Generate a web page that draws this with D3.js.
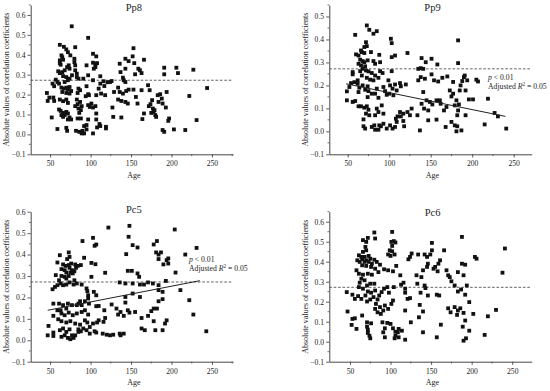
<!DOCTYPE html>
<meta charset="utf-8">
<script src="https://d3js.org/d3.v7.min.js"></script>
<style>
  body { margin: 0; background: #fff; }
  text { font-family: "Liberation Serif", "Times New Roman", serif; fill: #222; }
</style>
<body>
<div id="my_dataviz"></div>
<script>
// [age, |r|] pairs
var pp8Points = [[76.7,0.543],[97,0.485],[62,0.45],[67,0.44],[81,0.438],[70,0.427],[72,0.413],[64,0.397],[65,0.388],[75,0.397],[103,0.405],[107,0.392],
  [80,0.38],[80,0.363],[62,0.372],[66,0.375],[103,0.36],[106,0.352],[108,0.358],[62,0.358],[63,0.35],[81,0.347],[95,0.347],[106,0.338],[104,0.33],[71,0.338],[73,0.347],
  [60,0.317],[62,0.308],[65,0.313],[68,0.322],[74,0.33],[81,0.322],[83,0.305],[97,0.297],[77,0.297],[66,0.293],[70,0.288],[72,0.272],[68,0.263],[74,0.28],[83,0.288],[85,0.28],[91,0.28],
  [57,0.275],[59,0.263],[61,0.255],[53,0.255],[55,0.242],[46,0.208],[49,0.185],[54,0.185],[47,0.168],[55,0.168],
  [64,0.235],[67,0.23],[70,0.235],[72,0.225],[74,0.238],[76,0.218],[65,0.213],[70,0.208],[74,0.205],[85,0.23],[87,0.222],[84,0.208],
  [103,0.272],[112,0.292],[112,0.255],[110,0.23],[116,0.267],[117,0.243],[121,0.262],[124,0.263],[126,0.268],
  [95,0.242],[97,0.202],[94,0.192],[98,0.197],[107,0.197],[118,0.197],[113,0.205],
  [62,0.175],[66,0.167],[70,0.175],[72,0.158],[83,0.175],[87,0.163],[84,0.152],[81,0.142],[89,0.142],[85,0.13],[88,0.122],
  [97,0.147],[99,0.138],[103,0.135],[106,0.142],[101,0.155],[107,0.105],[107,0.075],[111,0.052],[108,0.035],[112,0.042],
  [61,0.125],[63,0.118],[66,0.108],[68,0.097],[70,0.113],[72,0.105],[64,0.097],[66,0.088],[74,0.085],[76,0.075],[72,0.075],[52,0.085],[59,0.027],
  [70,0.033],[71,0.018],[82,0.018],[86,0.013],[89,0.005],[92,0.005],[90,0.018],[95,0.025],[97,0.075],[95,0.047],[92,0.042],[88,0.08],[84,0.08],[86,0.108],
  [103,0.005],[119,0.038],[119,0.03],[127,0.135],[128,0.088],[138,0.085],
  [136,0.355],[143,0.38],[147,0.368],[153,0.433],[152,0.392],[154,0.358],[137,0.313],[143,0.33],[140,0.285],[141,0.272],[143,0.263],[134,0.235],[136,0.213],[140,0.205],[144,0.218],[147,0.225],[153,0.225],[155,0.302],[134,0.175],[138,0.168],[143,0.163],[146,0.155],[129,0.213],
  [156,0.188],[158,0.155],[159,0.33],[161,0.322],[163,0.308],[163,0.222],[164,0.077],[166,0.375],[171,0.247],[173,0.222],[166,0.105],
  [172,0.142],[174,0.152],[176,0.172],[177,0.13],[178,0.113],[175,0.108],[179,0.122],[180,0.097],[183,0.197],[184,0.163],[188,0.18],[186,0.202],[181,0.088],[189,0.155],
  [191,0.335],[191,0.302],[193,0.135],[194,0.213],[189,0.022],[191,0.013],[197,0.08],[196,0.068],[203,0.025],[206,0.335],[208,0.308],[217,0.022],[222,0.193],[227,0.325],[231,0.072],[244,0.233]];

var pp9Points = [[73,0.461],[59,0.42],[76,0.442],[85,0.436],[81,0.425],[102,0.403],[103,0.384],[72,0.388],[73,0.371],[70,0.367],
  [66,0.352],[67,0.345],[70,0.341],[78,0.345],[63,0.33],[60,0.335],[88,0.333],[107,0.33],[122,0.341],[103,0.323],[139,0.319],[151,0.316],[183,0.396],
  [65,0.312],[68,0.306],[70,0.301],[74,0.309],[81,0.306],[83,0.294],[89,0.301],[63,0.294],[66,0.287],[71,0.283],[68,0.272],[72,0.265],[75,0.261],[65,0.262],[144,0.301],[158,0.291],[183,0.297],
  [56,0.258],[56,0.248],[79,0.254],[89,0.262],[92,0.254],[103,0.262],[83,0.243],[87,0.233],[67,0.243],[73,0.233],[77,0.225],[81,0.222],[62,0.222],[58,0.214],[54,0.21],[52,0.193],[49,0.174],[49,0.135],[56,0.128],
  [62,0.207],[68,0.2],[74,0.196],[64,0.19],[71,0.181],[75,0.175],[74,0.149],[79,0.164],[63,0.171],[59,0.132],[85,0.186],[83,0.164],[87,0.146],[93,0.193],[95,0.175],[97,0.159],[99,0.222],[101,0.2],[104,0.186],[100,0.164],[105,0.157],[107,0.204],[109,0.178],[114,0.196],[113,0.21],[120,0.204],
  [66,0.109],[70,0.103],[73,0.109],[63,0.109],[75,0.094],[85,0.099],[87,0.084],[91,0.113],[93,0.077],[72,0.077],[76,0.07],[83,0.07],
  [69,0.052],[69,0.022],[71,0.012],[79,0.019],[82,0.026],[83,0.007],[87,0.007],[88,0.026],[90,0.022],[93,0.033],[97,0.012],[101,0.026],[104,0.012],[107,0.019],[109,0.041],[108,0.055],[110,0.065],[114,0.065],[117,0.077],[113,0.084],[117,0.045],[118,0.022],[122,0.084],[125,0.07],[127,0.099],
  [137,0.004],[134,0.07],[139,0.12],[135,0.222],[138,0.236],[135,0.272],[138,0.275],[141,0.272],[143,0.229],[141,0.171],[145,0.135],[142,0.099],[147,0.091],[147,0.048],[149,0.128],[152,0.117],[151,0.248],[154,0.222],[157,0.135],[159,0.217],[161,0.135],[162,0.12],[157,0.051],[164,0.233],[166,0.091],[168,0.019],[169,0.106],[170,0.239],[173,0.178],[175,0.152],[175,0.041],[177,0.164],[177,0.215],[179,0.113],[181,0.135],[179,0.026],[181,0.0],[182,0.022],[182,0.07],[183,0.091],[184,0.117],[185,0.178],[186,0.2],[187,0.004],[188,0.219],[190,0.236],[191,0.243],[192,0.178],[192,0.07],[194,0.222],[196,0.139],[201,0.139],[205,0.225],[207,0.217],[215,0.03],[219,0.142],[227,0.08],[231,0.065],[241,0.012]];

var pc5Points = [[122,0.526],[148,0.534],[204,0.517],[103,0.478],[90,0.463],[107,0.447],[105,0.441],[147,0.483],[152,0.444],[158,0.433],[182,0.463],[178,0.447],[231,0.431],[217,0.4],
  [144,0.402],[181,0.41],[184,0.4],[196,0.382],[194,0.374],[190,0.354],[196,0.358],[184,0.379],[187,0.41],[205,0.316],
  [73,0.41],[74,0.389],[71,0.379],[92,0.385],[62,0.397],[59,0.363],[66,0.354],[69,0.347],[73,0.351],[76,0.358],[81,0.354],[84,0.347],[88,0.351],[82,0.338],[101,0.361],[106,0.355],[101,0.296],
  [64,0.332],[68,0.327],[74,0.338],[77,0.327],[70,0.316],[75,0.316],[78,0.312],[80,0.322],[57,0.304],[64,0.3],[68,0.296],[70,0.288],[73,0.3],[61,0.28],[80,0.28],[118,0.315],[146,0.324],[151,0.324],[158,0.312],[160,0.296],[193,0.277],
  [63,0.265],[66,0.257],[70,0.26],[74,0.27],[79,0.26],[83,0.265],[89,0.26],[95,0.242],[96,0.229],[53,0.238],[56,0.249],[59,0.257],[136,0.27],[143,0.265],[152,0.265],[161,0.26],[166,0.26],[171,0.27],[177,0.265],[184,0.257],[152,0.218],[143,0.202],[189,0.226],[184,0.234],
  [104,0.226],[107,0.21],[97,0.195],[93,0.182],[98,0.171],[89,0.164],[85,0.171],[83,0.164],[87,0.182],[97,0.21],[54,0.171],[61,0.171],[66,0.164],[72,0.171],[77,0.164],[70,0.148],[63,0.14],[59,0.14],[54,0.114],[64,0.125],[68,0.117],[73,0.129],[78,0.117],[83,0.125],[89,0.132],[93,0.14],[97,0.12],
  [107,0.159],[110,0.16],[117,0.14],[126,0.167],[132,0.148],[134,0.12],[137,0.132],[143,0.176],[146,0.14],[148,0.129],[141,0.114],[155,0.132],[161,0.202],[163,0.104],[171,0.114],[175,0.136],[178,0.148],[182,0.148],[184,0.182],[189,0.192],[178,0.089],[192,0.078],[194,0.093],
  [60,0.098],[64,0.089],[70,0.083],[75,0.089],[81,0.078],[87,0.073],[93,0.093],[96,0.083],[103,0.078],[108,0.083],[110,0.093],[116,0.086],[118,0.104],[99,0.062],[91,0.055],[85,0.051],[95,0.047],[88,0.042],
  [48,0.067],[54,0.036],[54,0.02],[62,0.047],[66,0.055],[70,0.039],[74,0.051],[68,0.023],[72,0.011],[75,0.005],[79,0.011],[77,0.023],[81,0.023],[85,0.039],[47,0.023],[64,0.016],[99,0.031],[105,0.042],[107,0.036],[115,0.031],[120,0.026],[124,0.023],[128,0.026],[136,0.031],[137,0.023],[141,0.031],[163,0.055],[167,0.047],[180,0.047],[189,0.047],[243,0.042],[227,0.12],[222,0.187],[211,0.234]];

var pc6Points = [[80,0.546],[102,0.549],[81,0.516],[72,0.519],[66,0.508],[70,0.499],[101,0.499],[104,0.503],[106,0.496],[188,0.524],[151,0.494],[102,0.479],[99,0.457],[102,0.452],[97,0.436],[100,0.429],[105,0.436],[241,0.466],[166,0.457],[151,0.457],[149,0.436],[142,0.436],[134,0.436],[145,0.424],[126,0.441],[122,0.412],[124,0.424],
  [69,0.474],[70,0.457],[66,0.449],[61,0.432],[64,0.424],[68,0.424],[73,0.429],[65,0.412],[70,0.407],[75,0.415],[80,0.41],[59,0.407],[62,0.399],[68,0.399],[73,0.399],[77,0.39],[83,0.399],[87,0.385],[92,0.362],[97,0.357],[103,0.352],[107,0.379],[112,0.332],[65,0.382],[70,0.379],[76,0.374],[81,0.365],[85,0.348],
  [204,0.424],[206,0.415],[188,0.39],[192,0.385],[183,0.348],[190,0.332],[169,0.357],[171,0.332],[173,0.323],[175,0.302],[155,0.374],[159,0.39],[161,0.407],[153,0.365],[158,0.352],[146,0.39],[145,0.374],[140,0.357],[138,0.323],[132,0.332],[238,0.345],
  [58,0.357],[61,0.34],[66,0.335],[72,0.34],[77,0.335],[64,0.315],[68,0.307],[75,0.29],[80,0.29],[71,0.281],[62,0.295],[61,0.273],[66,0.265],[72,0.251],[76,0.245],[81,0.256],[86,0.231],[89,0.248],[92,0.265],[96,0.273],[98,0.245],[104,0.273],[116,0.295],[113,0.285],[118,0.265],[118,0.245],[133,0.29],[137,0.245],[142,0.281],[143,0.268],[146,0.231],[157,0.235],[160,0.231],[179,0.281],[183,0.251],[187,0.261],[192,0.235],[194,0.281],[197,0.198],
  [46,0.248],[53,0.235],[56,0.214],[60,0.228],[64,0.214],[69,0.231],[71,0.201],[75,0.211],[79,0.223],[82,0.189],[84,0.211],[81,0.164],[84,0.147],[87,0.173],[88,0.139],[91,0.156],[93,0.181],[97,0.164],[101,0.189],[103,0.206],[118,0.156],[121,0.214],[124,0.218],[136,0.184],[140,0.151],[135,0.122],[179,0.173],[183,0.156],[186,0.167],[182,0.134],[171,0.167],[174,0.147],[190,0.144],[202,0.139],[220,0.127],[230,0.159],
  [47,0.151],[53,0.114],[56,0.117],[58,0.064],[52,0.084],[65,0.131],[71,0.097],[76,0.092],[71,0.075],[72,0.06],[72,0.044],[74,0.03],[75,0.017],[90,0.097],[93,0.067],[91,0.047],[93,0.022],[96,0.094],[100,0.089],[103,0.067],[106,0.05],[106,0.03],[105,0.017],[109,0.047],[110,0.022],[110,0.064],[114,0.055],[118,0.01],[125,0.097],[140,0.047],[157,0.022],[162,0.085],[190,0.005],[193,0.017],[192,0.106],[189,0.075],[197,0.055],[216,0.034]];

// fitted lines (start, end) and significance threshold
var pp9Fit = [[48, 0.207], [240, 0.065]];
var pc5Fit = [[47, 0.14], [235, 0.278]];
var threshold = 0.272;
var xTicks = [50, 100, 150, 200, 250];

var W = 550, H = 391;
var svg = d3.select("#my_dataviz").append("svg")
    .attr("width", W).attr("height", H);

// panel layout: pixel box + domains
var panels = [
  {title: "Pp8", pts: pp8Points, fit: null, x0: 30.7, x1: 233, y0: 5, y1: 154.3, xd: [26, 276], yd: [-0.1, 0.65], labX: 6, ageY: 178, titleY: 11},
  {title: "Pp9", pts: pp9Points, fit: pp9Fit, x0: 329.3, x1: 531.7, y0: 5, y1: 154.3, xd: [27.8, 271.7], yd: [-0.1, 0.55], labX: 305, ageY: 178, titleY: 11, note: [488, 80]},
  {title: "Pc5", pts: pc5Points, fit: pc5Fit, x0: 30.7, x1: 233, y0: 211.7, y1: 361.7, xd: [26, 276], yd: [-0.1, 0.6], labX: 6, ageY: 385, titleY: 213, note: [189, 262]},
  {title: "Pc6", pts: pc6Points, fit: null, x0: 329.3, x1: 531.7, y0: 211.7, y1: 361.7, xd: [24.5, 274], yd: [-0.1, 0.65], labX: 305, ageY: 385, titleY: 216}
];

panels.forEach(function(p) {
  var x = d3.scaleLinear().domain(p.xd).range([p.x0, p.x1]);
  var y = d3.scaleLinear().domain(p.yd).range([p.y1, p.y0]);
  var g = svg.append("g");

  // minor ticks
  var yMinor = d3.range(-0.05, p.yd[1] + 0.001, 0.1);
  g.selectAll(".ym").data(yMinor).enter().append("line")
    .attr("x1", p.x0 - 1.8).attr("x2", p.x0)
    .attr("y1", function(d){ return y(d); }).attr("y2", function(d){ return y(d); })
    .attr("stroke", "#333").attr("stroke-width", 0.7);
  var xMinor = [75, 125, 175, 225, 275].filter(function(d){ return d <= p.xd[1]; });
  g.selectAll(".xm").data(xMinor).enter().append("line")
    .attr("x1", function(d){ return x(d); }).attr("x2", function(d){ return x(d); })
    .attr("y1", p.y1).attr("y2", p.y1 + 1.8)
    .attr("stroke", "#333").attr("stroke-width", 0.7);

  var yTicks = d3.range(-0.1, p.yd[1] + 0.001, 0.1);
  var yAxis = g.append("g").attr("transform", "translate(" + p.x0 + ",0)")
    .call(d3.axisLeft(y).tickValues(yTicks).tickSize(3.2).tickSizeOuter(0).tickPadding(2)
      .tickFormat(d3.format(".1f")));
  var xAxis = g.append("g").attr("transform", "translate(0," + p.y1 + ")")
    .call(d3.axisBottom(x).tickValues(xTicks).tickSize(3.2).tickSizeOuter(0).tickPadding(3.5));
  [yAxis, xAxis].forEach(function(a) {
    a.select(".domain").attr("stroke", "#333").attr("stroke-width", 0.9);
    a.selectAll(".tick line").attr("stroke", "#333").attr("stroke-width", 0.8);
    a.selectAll("text").style("font-family", "Liberation Serif").style("font-size", "7.6px").attr("fill", "#333");
  });

  // threshold
  g.append("line")
    .attr("x1", p.x0).attr("x2", p.x1)
    .attr("y1", y(threshold)).attr("y2", y(threshold))
    .attr("stroke", "#444").attr("stroke-width", 0.85).attr("stroke-dasharray", "2.6,1.8");

  // points
  var s = 3.8;
  g.selectAll(".pt").data(p.pts).enter().append("rect")
    .attr("x", function(d){ return x(d[0]) - s / 2; })
    .attr("y", function(d){ return y(d[1]) - s / 2; })
    .attr("width", s).attr("height", s)
    .attr("fill", "#111");

  if (p.fit) {
    g.append("line")
      .attr("x1", x(p.fit[0][0])).attr("y1", y(p.fit[0][1]))
      .attr("x2", x(p.fit[1][0])).attr("y2", y(p.fit[1][1]))
      .attr("stroke", "#222").attr("stroke-width", 1);
    var t1 = g.append("text").attr("x", p.note[0]).attr("y", p.note[1]).style("font-size", "7.7px");
    t1.append("tspan").style("font-style", "italic").text("p");
    t1.append("tspan").text(" < 0.01");
    var t2 = g.append("text").attr("x", p.note[0]).attr("y", p.note[1] + 9).style("font-size", "7.7px");
    t2.append("tspan").text("Adjusted ");
    t2.append("tspan").style("font-style", "italic").text("R");
    t2.append("tspan").attr("dy", -2.8).style("font-size", "5.2px").text("2");
    t2.append("tspan").attr("dy", 2.8).text(" = 0.05");
  }

  // titles
  var cx = (p.x0 + p.x1) / 2;
  g.append("text").attr("x", cx + 2).attr("y", p.titleY).attr("text-anchor", "middle")
    .style("font-size", "10.5px").text(p.title);
  g.append("text").attr("x", cx + 2).attr("y", p.ageY).attr("text-anchor", "middle")
    .style("font-size", "8px").text("Age");
  g.append("text")
    .attr("transform", "translate(" + (p.labX + 3) + "," + ((p.y0 + p.y1) / 2) + ") rotate(-90)")
    .attr("text-anchor", "middle").style("font-size", "7.9px")
    .text("Absolute values of correlation coefficients");
});
</script>
</body>
